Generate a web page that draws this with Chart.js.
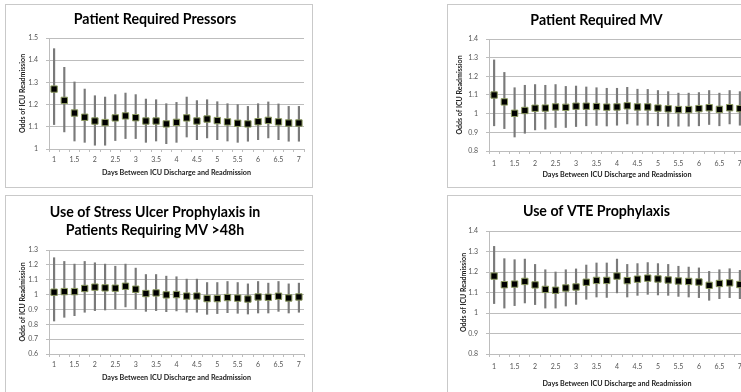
<!DOCTYPE html>
<html><head><meta charset="utf-8">
<script src="https://cdn.jsdelivr.net/npm/chart.js@4"></script>
<style>
html,body{margin:0;padding:0;background:#fff;width:741px;height:392px;overflow:hidden;}
.panel{position:absolute;box-sizing:border-box;border:1px solid #c9c9c9;background:#fff;}
canvas{display:block;}
</style></head><body>
<div class="panel" style="left:5px;top:4px;width:308px;height:184px"><canvas id="c1" width="306" height="182"></canvas></div>
<div class="panel" style="left:447px;top:4px;width:308px;height:184px"><canvas id="c2" width="306" height="182"></canvas></div>
<div class="panel" style="left:5px;top:195px;width:308px;height:202px"><canvas id="c3" width="306" height="200"></canvas></div>
<div class="panel" style="left:447px;top:195px;width:308px;height:202px"><canvas id="c4" width="306" height="200"></canvas></div>
<script>
// Categories (days between ICU discharge and readmission)
const days = ['1','1.25','1.5','1.75','2','2.25','2.5','2.75','3','3.25','3.5','3.75','4','4.25','4.5','4.75','5','5.25','5.5','5.75','6','6.25','6.5','6.75','7'];

// Patient Required Pressors
const pressorsMean  = [1.270,1.219,1.162,1.143,1.126,1.119,1.140,1.149,1.141,1.126,1.126,1.113,1.120,1.140,1.126,1.135,1.128,1.122,1.116,1.113,1.123,1.129,1.122,1.117,1.117];
const pressorsUpper = [1.452,1.368,1.302,1.270,1.240,1.234,1.245,1.252,1.245,1.225,1.222,1.204,1.210,1.234,1.218,1.222,1.213,1.204,1.200,1.192,1.204,1.212,1.203,1.192,1.192];
const pressorsLower = [1.110,1.077,1.036,1.030,1.017,1.017,1.038,1.047,1.047,1.030,1.036,1.024,1.030,1.054,1.042,1.050,1.042,1.036,1.030,1.035,1.042,1.050,1.042,1.035,1.035];

// Patient Required MV
const mvMean  = [1.100,1.063,1.002,1.017,1.029,1.030,1.036,1.034,1.040,1.040,1.038,1.035,1.036,1.042,1.036,1.036,1.030,1.026,1.022,1.022,1.027,1.032,1.023,1.032,1.027];
const mvUpper = [1.288,1.221,1.139,1.152,1.156,1.152,1.156,1.146,1.148,1.143,1.139,1.136,1.136,1.141,1.131,1.130,1.124,1.118,1.110,1.110,1.113,1.124,1.110,1.124,1.118];
const mvLower = [0.935,0.920,0.875,0.895,0.913,0.917,0.926,0.926,0.931,0.935,0.937,0.934,0.938,0.945,0.938,0.938,0.935,0.932,0.933,0.933,0.935,0.942,0.935,0.945,0.938];

// Use of Stress Ulcer Prophylaxis in Patients Requiring MV >48h
const supMean  = [1.016,1.020,1.020,1.041,1.050,1.045,1.043,1.056,1.036,1.007,1.011,0.998,1.000,0.990,0.990,0.973,0.973,0.980,0.976,0.970,0.984,0.982,0.989,0.977,0.984];
const supUpper = [1.248,1.223,1.205,1.223,1.214,1.205,1.191,1.205,1.178,1.135,1.135,1.124,1.120,1.104,1.104,1.081,1.081,1.088,1.081,1.072,1.088,1.077,1.088,1.072,1.077];
const supLower = [0.822,0.847,0.858,0.881,0.892,0.896,0.903,0.917,0.903,0.887,0.892,0.885,0.890,0.881,0.881,0.867,0.872,0.878,0.874,0.869,0.876,0.876,0.887,0.876,0.881];

// Use of VTE Prophylaxis
const vteMean  = [1.180,1.138,1.141,1.154,1.137,1.115,1.111,1.122,1.127,1.150,1.159,1.159,1.180,1.158,1.165,1.170,1.166,1.161,1.156,1.154,1.151,1.135,1.144,1.147,1.139];
const vteUpper = [1.325,1.265,1.260,1.263,1.237,1.211,1.200,1.211,1.215,1.234,1.244,1.244,1.263,1.237,1.241,1.246,1.241,1.237,1.228,1.224,1.220,1.203,1.211,1.216,1.208];
const vteLower = [1.046,1.024,1.036,1.049,1.041,1.024,1.024,1.034,1.042,1.067,1.078,1.076,1.098,1.078,1.086,1.091,1.088,1.086,1.081,1.078,1.075,1.062,1.070,1.075,1.070];

// Axis ranges
const pressorsRange = [1.0, 1.5];
const mvRange = [0.8, 1.4];
const supRange = [0.6, 1.3];
const vteRange = [0.8, 1.4];

const xTitleText = 'Days Between ICU Discharge and Readmission';
const yTitleText = 'Odds of ICU Readmission';

const FONT = 'Lato, "Liberation Sans", sans-serif';
const GRID = '#bdbdbd';

function makeChart(id, title, mean, lower, upper, range, L) {
  const ctx = document.getElementById(id).getContext('2d');
  return new Chart(ctx, {
    data: {
      labels: days,
      datasets: [
        { type: 'line', data: mean, showLine: false, pointStyle: 'rect', pointRadius: 4.5,
          pointBackgroundColor: '#000', pointBorderColor: '#8c9a60', pointBorderWidth: 1, order: 0 },
        { type: 'bar', data: lower.map((l, i) => [l, upper[i]]), backgroundColor: '#7a7a7a',
          borderWidth: 0, barThickness: 1.5, grouped: false, order: 1 }
      ]
    },
    options: {
      responsive: false, animation: false, events: [],
      layout: { padding: { left: 0, right: L.right, top: 0, bottom: 0 } },
      plugins: {
        legend: { display: false }, tooltip: { enabled: false },
        title: { display: true, text: title, color: '#000',
          font: { family: FONT, weight: 'bold', size: 14.2, lineHeight: L.tlh },
          padding: { top: L.tTop, bottom: L.tBot } }
      },
      scales: {
        x: {
          type: 'category', offset: true,
          grid: { display: true, drawOnChartArea: false, offset: true, tickLength: 3, color: GRID },
          border: { display: true, color: GRID },
          ticks: { autoSkip: false, maxRotation: 0, minRotation: 0, padding: L.xPad, color: '#555',
            font: { family: FONT, size: 7 },
            callback: (v, i) => (i % 2 === 0 ? days[i] : '') },
          title: { display: true, text: xTitleText, color: '#222',
            font: { family: FONT, weight: 'bold', size: 7.2 }, padding: { top: 0, bottom: L.xtPad } },
          afterFit: (s) => { s.height = L.xH; }
        },
        y: {
          type: 'linear', min: range[0], max: range[1],
          grid: { color: GRID, tickLength: 3 },
          border: { display: true, color: GRID },
          ticks: { stepSize: 0.1, padding: 8, color: '#555', font: { family: FONT, size: 7 },
            callback: (v) => String(Math.round(v * 10) / 10) },
          title: { display: true, text: yTitleText, color: '#222',
            font: { family: FONT, weight: 'bold', size: 7 }, padding: { top: L.ytPad, bottom: 0 } },
          afterFit: (s) => { s.width = L.yW; }
        }
      }
    }
  });
}

makeChart('c1', 'Patient Required Pressors', pressorsMean, pressorsLower, pressorsUpper, pressorsRange,
  { right: 8, tlh: '17px', tTop: 5.5, tBot: 10.5, xPad: 4, xtPad: 9.8, xH: 38, yW: 43, ytPad: 12.8 });
makeChart('c2', 'Patient Required MV', mvMean, mvLower, mvUpper, mvRange,
  { right: 9, tlh: '17px', tTop: 7.2, tBot: 9.8, xPad: 6, xtPad: 8.5, xH: 36, yW: 41, ytPad: 7.8 });
makeChart('c3', ['Use of Stress Ulcer Prophylaxis in', 'Patients Requiring MV >48h'], supMean, supLower, supUpper, supRange,
  { right: 8, tlh: '18px', tTop: 7, tBot: 11, xPad: 4, xtPad: 13.8, xH: 42, yW: 43, ytPad: 12.8 });
makeChart('c4', 'Use of VTE Prophylaxis', vteMean, vteLower, vteUpper, vteRange,
  { right: 9, tlh: '17px', tTop: 7.2, tBot: 10.8, xPad: 6, xtPad: 8, xH: 42, yW: 41, ytPad: 11.8 });
</script>
</body></html>
